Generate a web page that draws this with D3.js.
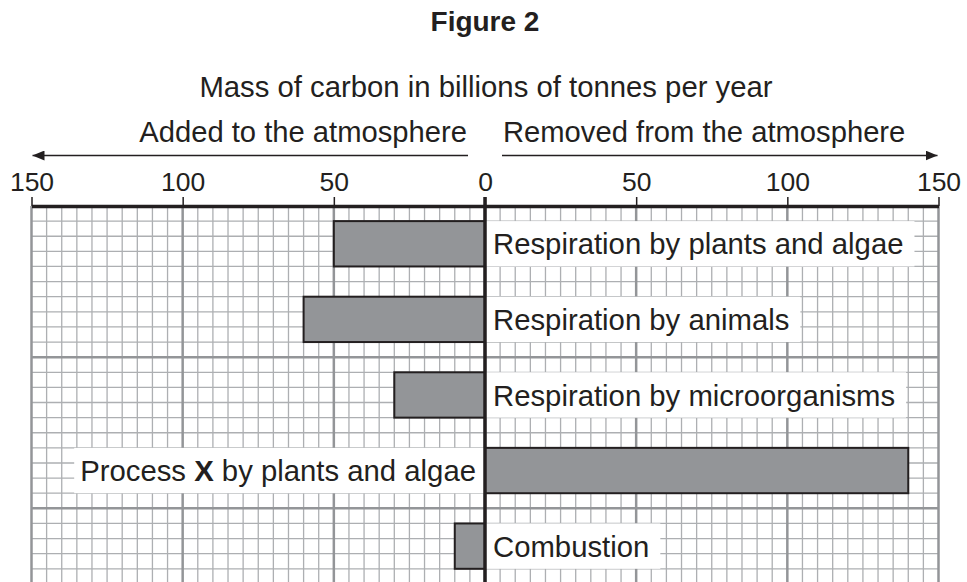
<!DOCTYPE html>
<html>
<head>
<meta charset="utf-8">
<script src="https://cdn.jsdelivr.net/npm/d3@7"></script>
<style>
  body { margin: 0; background: #fff; }
  svg text { font-family: "Liberation Sans", Arial, sans-serif; fill: #231f20; }
</style>
</head>
<body>
<div id="wrapper"></div>
<script>
// data
const categories = [
  'Respiration by plants and algae',
  'Respiration by animals',
  'Respiration by microorganisms',
  'Process X by plants and algae',
  'Combustion'
];
const direction = ['added', 'added', 'added', 'removed', 'added'];
const amounts = [50, 60, 30, 140, 10];
const tickValues = [-150, -100, -50, 0, 50, 100, 150];
const boldWord = 'X';

const width = 967, height = 582;
const gridLeft = 31.5, gridRight = 938.5, gridTop = 206;
const ink = '#231f20';

let svg = d3.select('#wrapper')
  .append('svg')
  .attr('width', width)
  .attr('height', height);

let x = d3.scaleLinear().domain([-150, 150]).range([gridLeft, gridRight]);
// one grid cell = 5 units, rows are 5 cells tall
let cell = x(5) - x(0);
let rowSpan = cell * 5;
let gridBottom = gridTop + rowSpan * categories.length;
let y = d3.scaleBand().domain(categories).range([gridTop, gridBottom]);
let yCell = d3.scaleLinear().domain([0, categories.length * 5]).range([gridTop, gridBottom]);

// grid
let grid = svg.append('g').attr('class', 'grid');
let vLines = d3.range(-150, 151, 5);
let hLines = d3.range(0, categories.length * 5 + 1);

grid.selectAll('line.vminor')
  .data(vLines.filter(d => d % 50 !== 0))
  .enter().append('line')
  .attr('class', 'vminor')
  .attr('x1', d => x(d)).attr('x2', d => x(d))
  .attr('y1', gridTop).attr('y2', gridBottom)
  .attr('stroke', '#adafb2').attr('stroke-width', 1.3);

grid.selectAll('line.hminor')
  .data(hLines.filter(d => d % 10 !== 0))
  .enter().append('line')
  .attr('class', 'hminor')
  .attr('x1', gridLeft).attr('x2', gridRight)
  .attr('y1', d => yCell(d)).attr('y2', d => yCell(d))
  .attr('stroke', '#adafb2').attr('stroke-width', 1.3);

grid.selectAll('line.vmajor')
  .data(vLines.filter(d => d % 50 === 0))
  .enter().append('line')
  .attr('class', 'vmajor')
  .attr('x1', d => x(d)).attr('x2', d => x(d))
  .attr('y1', gridTop).attr('y2', gridBottom)
  .attr('stroke', '#939598').attr('stroke-width', 2.5);

grid.selectAll('line.hmajor')
  .data(hLines.filter(d => d % 10 === 0 && d > 0))
  .enter().append('line')
  .attr('class', 'hmajor')
  .attr('x1', gridLeft).attr('x2', gridRight)
  .attr('y1', d => yCell(d)).attr('y2', d => yCell(d))
  .attr('stroke', '#939598').attr('stroke-width', 2.5);

// bars
svg.append('g')
  .selectAll('rect')
  .data(categories)
  .enter()
  .append('rect')
  .attr('class', 'bars')
  .attr('x', (d, i) => direction[i] === 'added' ? x(-amounts[i]) : x(0))
  .attr('y', d => y(d) + rowSpan / 5)
  .attr('width', (d, i) => x(amounts[i]) - x(0))
  .attr('height', rowSpan * 3 / 5)
  .attr('fill', '#939598')
  .attr('stroke', ink)
  .attr('stroke-width', 2);

// labels with white boxes, on the opposite side of the bar
let labels = svg.append('g')
  .selectAll('g')
  .data(categories)
  .enter()
  .append('g');

let boxes = labels.append('rect').attr('fill', '#fff');

let labelText = labels.append('text')
  .attr('font-size', 29.3)
  .attr('text-anchor', (d, i) => direction[i] === 'added' ? 'start' : 'end')
  .attr('x', (d, i) => direction[i] === 'added' ? x(0) + 8 : x(0) - 9)
  .attr('y', d => y(d) + rowSpan / 2)
  .attr('dy', '0.36em');

labelText.each(function (d) {
  let t = d3.select(this);
  d.split(' ').forEach((w, j, arr) => {
    t.append('tspan')
      .attr('font-weight', w === boldWord ? 'bold' : null)
      .text(w + (j < arr.length - 1 ? ' ' : ''));
  });
});

boxes.each(function (d, i) {
  let bb = labelText.nodes()[i].getBBox();
  let x0 = direction[i] === 'added' ? x(0) : bb.x - 6;
  let x1 = direction[i] === 'added' ? bb.x + bb.width + 11 : x(0);
  d3.select(this)
    .attr('x', x0).attr('width', x1 - x0)
    .attr('y', y(d) + rowSpan / 5)
    .attr('height', rowSpan * 3 / 5);
});

// top axis
let xAxis = d3.axisTop(x)
  .tickValues(tickValues)
  .tickSizeInner(9)
  .tickSizeOuter(0)
  .tickPadding(6)
  .tickFormat(d => Math.abs(d));

let axisG = svg.append('g')
  .attr('class', 'x axis')
  .attr('transform', 'translate(0,' + gridTop + ')')
  .call(xAxis);

axisG.select('.domain').attr('stroke', ink).attr('stroke-width', 3.5);
axisG.selectAll('.tick line').attr('stroke', ink).attr('stroke-width', 1.5);
axisG.selectAll('.tick text')
  .attr('font-size', 26.5)
  .attr('font-family', '"Liberation Sans", Arial, sans-serif')
  .attr('fill', ink);

// zero line
svg.append('line')
  .attr('x1', x(0)).attr('x2', x(0))
  .attr('y1', gridTop - 9).attr('y2', gridBottom)
  .attr('stroke', ink).attr('stroke-width', 3.5);

// titles and direction arrows
svg.append('text')
  .attr('x', x(0)).attr('y', 31)
  .attr('text-anchor', 'middle')
  .attr('font-size', 28)
  .attr('font-weight', 'bold')
  .text('Figure 2');

svg.append('text')
  .attr('x', x(0) + 1).attr('y', 96.5)
  .attr('text-anchor', 'middle')
  .attr('font-size', 29.3)
  .text('Mass of carbon in billions of tonnes per year');

svg.append('text')
  .attr('x', x(0) - 18).attr('y', 142)
  .attr('text-anchor', 'end')
  .attr('font-size', 29.2)
  .text('Added to the atmosphere');

svg.append('text')
  .attr('x', x(0) + 18).attr('y', 142)
  .attr('text-anchor', 'start')
  .attr('font-size', 29.2)
  .text('Removed from the atmosphere');

let defs = svg.append('defs');
defs.append('marker')
  .attr('id', 'head')
  .attr('viewBox', '0 0 12 10')
  .attr('refX', 12).attr('refY', 5)
  .attr('markerWidth', 12).attr('markerHeight', 10)
  .attr('markerUnits', 'userSpaceOnUse')
  .attr('orient', 'auto')
  .append('path')
  .attr('d', 'M0,0L12,5L0,10Z')
  .attr('fill', ink);

svg.append('line')
  .attr('x1', x(0) - 17).attr('x2', x(-150) + 1)
  .attr('y1', 155.5).attr('y2', 155.5)
  .attr('stroke', ink).attr('stroke-width', 1.5)
  .attr('marker-end', 'url(#head)');

svg.append('line')
  .attr('x1', x(0) + 17).attr('x2', x(150) - 1)
  .attr('y1', 155.5).attr('y2', 155.5)
  .attr('stroke', ink).attr('stroke-width', 1.5)
  .attr('marker-end', 'url(#head)');
</script>
</body>
</html>
